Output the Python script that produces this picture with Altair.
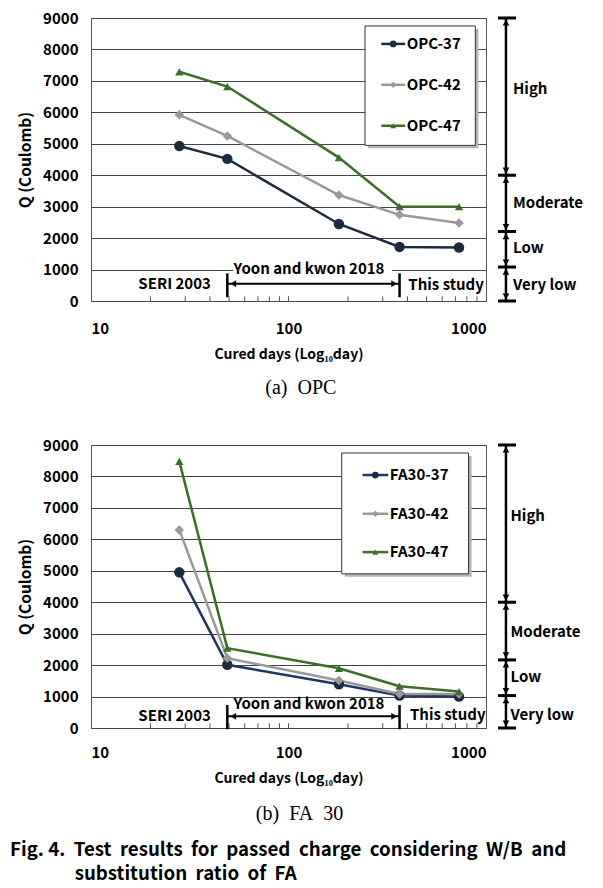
import altair as alt
import pandas as pd

FONT = "Noto Sans CJK KR"
SERIF = "Liberation Serif"
NB = "\u00a0"
EM = "\u2003"
ZW = "\u200b"

# ---------------- data ----------------
days = [28, 49, 180, 365, 730]

opc_names = ["OPC-37", "OPC-42", "OPC-47"]
opc_37 = [4930, 4520, 2450, 1720, 1700]
opc_42 = [5920, 5250, 3370, 2740, 2480]
opc_47 = [7290, 6820, 4560, 3000, 3000]

fa_names = ["FA30-37", "FA30-42", "FA30-47"]
fa_37 = [4950, 2010, 1390, 1030, 1000]
fa_42 = [6300, 2220, 1510, 1080, 1080]
fa_47 = [8480, 2540, 1900, 1330, 1160]

y_ticks = [0, 1000, 2000, 3000, 4000, 5000, 6000, 7000, 8000, 9000]
x_ticks = [10, 100, 1000]
minor_ticks = [20, 30, 40, 50, 60, 70, 80, 90, 100, 200, 300, 400, 500, 600, 700, 800, 900]

class_labels = ["High", "Moderate", "Low", "Very low"]
source_labels = ["SERI 2003", "Yoon and kwon 2018", "This study"]
period_bounds = [49, 365]

# class boundaries (Q) and label heights
bounds_a = [9000, 4000, 2210, 1080, 0]
label_y_a = [6750, 3130, 1700, 500]
bounds_b = [9000, 4000, 2165, 1030, 0]
label_y_b = [6740, 3050, 1610, 410]

# ---------------- styles ----------------
line_colors_a = ["#1e2b3b", "#999999", "#3c6e2a"]
point_colors_a = ["#1e2b3b", "#999999", "#3c6e2a"]
line_colors_b = ["#1f3564", "#999999", "#3c6e2a"]
point_colors_b = ["#1e2b3b", "#999999", "#3c6e2a"]
shapes = ["circle", "diamond", "triangle-up"]
sizes = [110, 70, 100]
legend_sizes = [45, 35, 50]


def make_panel(names, vals, line_colors, point_colors, bounds, label_ys,
               text_pos, leg, caption, lab_pad, cap_offset):
    rows = []
    for n, v in zip(names, vals):
        for d, q in zip(days, v):
            rows.append({"series": n, "day": d, "Q": q})
    df = pd.DataFrame(rows)

    xs = alt.Scale(type="log", domain=[10, 1000], nice=False)
    ys = alt.Scale(domain=[0, 9000], nice=False)
    xax = alt.Axis(values=x_ticks, format="d", ticks=False, domain=False, grid=False,
                   labelPadding=lab_pad, title="Cured days (Log₁₀day)", titlePadding=11)
    yax = alt.Axis(values=y_ticks, format="d", ticks=False, domain=False, grid=True,
                   labelPadding=13, title="Q (Coulomb)", titlePadding=9, titleFontSize=15.5)

    def X(f="day"):
        return alt.X(f"{f}:Q", scale=xs, axis=xax)

    def Y(f="Q"):
        return alt.Y(f"{f}:Q", scale=ys, axis=yax)

    cscale = alt.Scale(domain=names, range=line_colors)
    fscale = alt.Scale(domain=names, range=point_colors)
    sscale = alt.Scale(domain=names, range=shapes)

    lines = alt.Chart(df).mark_line(strokeWidth=2.5).encode(
        x=X(), y=Y(),
        color=alt.Color("series:N", scale=cscale, legend=None),
        order=alt.Order("day:Q"),
    )
    points = alt.Chart(df).mark_point(filled=True, opacity=1).encode(
        x=X(), y=Y(),
        fill=alt.Fill("series:N", scale=fscale, legend=None),
        shape=alt.Shape("series:N", scale=sscale, legend=None),
        size=alt.Size("series:N", scale=alt.Scale(domain=names, range=sizes), legend=None),
    )

    # white background behind "Yoon and kwon 2018"
    bg = alt.Chart(pd.DataFrame([{"day": 52.5, "day2": 335, "Q": text_pos["yoon_y"] - 190,
                                  "Q2": text_pos["yoon_y"] + 190}])).mark_rect(color="white").encode(
        x=X(), x2="day2:Q", y=Y(), y2="Q2:Q")

    minor = alt.Chart(pd.DataFrame({"day": minor_ticks, "Q": [0] * len(minor_ticks),
                                    "Q2": [150] * len(minor_ticks)})).mark_rule(
        color="#555555", strokeWidth=1).encode(x=X(), y=Y(), y2="Q2:Q")

    vmarks = alt.Chart(pd.DataFrame({"day": period_bounds, "Q": [text_pos["vlow"]] * 2,
                                     "Q2": [text_pos["vhigh"]] * 2})).mark_rule(
        color="black", strokeWidth=2.5).encode(x=X(), y=Y(), y2="Q2:Q")

    harrow = alt.Chart(pd.DataFrame([{"day": period_bounds[0], "day2": period_bounds[1],
                                      "Q": text_pos["arrow_y"]}])).mark_rule(
        color="black", strokeWidth=2).encode(x=X(), x2="day2:Q", y=Y())
    hheads = alt.Chart(pd.DataFrame({"day": [52.5, 343], "Q": [text_pos["arrow_y"]] * 2,
                                     "s": ["triangle-left", "triangle-right"]})).mark_point(
        filled=True, color="black", opacity=1, size=45).encode(
        x=X(), y=Y(), shape=alt.Shape("s:N", scale=None, legend=None))

    src = alt.Chart(pd.DataFrame({
        "day": [text_pos["seri_x"], text_pos["yoon_x"], text_pos["this_x"]],
        "Q": [text_pos["seri_y"], text_pos["yoon_y"], text_pos["this_y"]],
        "t": source_labels})).mark_text(
        font=FONT, fontSize=15, fontWeight="bold", color="black").encode(x=X(), y=Y(), text="t:N")

    # right side classification bars
    xb1, xb2, xa, xt = 1150, 1420, 1262, text_pos["cls_x"]
    bars = alt.Chart(pd.DataFrame({"day": [xb1] * 5, "day2": [xb2] * 5, "Q": bounds})).mark_rule(
        color="black", strokeWidth=3).encode(x=X(), x2="day2:Q", y=Y())
    seg = pd.DataFrame({"day": [xa] * 4, "Q": bounds[1:], "Q2": bounds[:-1]})
    vrules = alt.Chart(seg).mark_rule(color="black", strokeWidth=2.5).encode(x=X(), y=Y(), y2="Q2:Q")
    heads = []
    for lo, hi in zip(bounds[1:], bounds[:-1]):
        heads.append({"day": xa, "Q": hi - 150, "s": "triangle-up"})
        heads.append({"day": xa, "Q": lo + 150, "s": "triangle-down"})
    vheads = alt.Chart(pd.DataFrame(heads)).mark_point(
        filled=True, color="black", opacity=1, size=45).encode(
        x=X(), y=Y(), shape=alt.Shape("s:N", scale=None, legend=None))
    cls_text = alt.Chart(pd.DataFrame({"day": [xt] * 4, "Q": label_ys, "t": class_labels})).mark_text(
        font=FONT, fontSize=15, fontWeight="bold", color="black", align="left").encode(
        x=X(), y=Y(), text="t:N")

    # ---- legend box drawn in the plot ----
    bx1, bx2, by1, by2 = leg["box"]
    shadow = alt.Chart(pd.DataFrame([{"day": bx1 * 1.036, "day2": bx2 * 1.036,
                                      "Q": by1 - 95, "Q2": by2 - 95}])).mark_rect(
        color="#b5b5b5").encode(x=X(), x2="day2:Q", y=Y(), y2="Q2:Q")
    box = alt.Chart(pd.DataFrame([{"day": bx1, "day2": bx2, "Q": by1, "Q2": by2}])).mark_rect(
        fill="white", stroke="#333333", strokeWidth=1).encode(x=X(), x2="day2:Q", y=Y(), y2="Q2:Q")
    lx1, lx2, lxc, ltx = leg["sym"]
    ldf = pd.DataFrame({"series": names, "day": [lx1] * 3, "day2": [lx2] * 3,
                        "mid": [lxc] * 3, "tx": [ltx] * 3, "Q": leg["ys"]})
    lrules = alt.Chart(ldf).mark_rule(strokeWidth=2.5).encode(
        x=X(), x2="day2:Q", y=Y(), color=alt.Color("series:N", scale=cscale, legend=None))
    lpts = alt.Chart(ldf).mark_point(filled=True, opacity=1).encode(
        x=X("mid"), y=Y(),
        fill=alt.Fill("series:N", scale=fscale, legend=None),
        shape=alt.Shape("series:N", scale=sscale, legend=None),
        size=alt.Size("series:N", scale=alt.Scale(domain=names, range=legend_sizes), legend=None))
    ltext = alt.Chart(ldf).mark_text(font=FONT, fontSize=15, fontWeight="bold", color="black",
                                     align="left", dx=1).encode(x=X("tx"), y=Y(), text="series:N")

    return alt.layer(
        bg, minor, lines, points, vmarks, harrow, hheads, src, bars, vrules, vheads, cls_text,
        shadow, box, lrules, lpts, ltext
    ).resolve_scale(shape="independent", size="independent").properties(
        width=395, height=283,
        title=alt.TitleParams(text=caption, orient="bottom", font=SERIF, fontSize=20,
                              fontWeight="normal", color="black", offset=cap_offset,
                              anchor="middle", frame="bounds"),
    )


pos_a = {"seri_x": 26.5, "seri_y": 552, "yoon_x": 127, "yoon_y": 1010, "this_x": 628,
         "this_y": 498, "arrow_y": 552, "vlow": 120, "vhigh": 880, "cls_x": 1370}
pos_b = {"seri_x": 26.5, "seri_y": 395, "yoon_x": 127, "yoon_y": 765, "this_x": 640,
         "this_y": 414, "arrow_y": 372, "vlow": -40, "vhigh": 730, "cls_x": 1330}

leg_a = {"box": (244, 883, 8747, 4949), "sym": (295, 390, 339, 392),
         "ys": [8176, 6875, 5574]}
leg_b = {"box": (186, 816, 8746, 4903), "sym": (237, 320, 275, 322),
         "ys": [8045, 6813, 5594]}

panel_a = make_panel(opc_names, [opc_37, opc_42, opc_47], line_colors_a, point_colors_a,
                     bounds_a, label_y_a, pos_a, leg_a, f"(a){NB}{NB}OPC", 20, 17)
panel_b = make_panel(fa_names, [fa_37, fa_42, fa_47], line_colors_b, point_colors_b,
                     bounds_b, label_y_b, pos_b, leg_b, f"(b){NB}{NB}FA{NB}{NB}30", 17, 19)

line1 = f"Fig.{NB}4.{NB}{NB}Test{NB}{NB}results{NB}{NB}for{NB}{NB}passed{NB}{NB}charge{NB}{NB}considering{NB}{NB}W/B{NB}{NB}and"
line2 = ZW + EM * 3 + NB * 2 + f"substitution{NB}{NB}ratio{NB}{NB}of{NB}{NB}FA"

chart = alt.vconcat(panel_a, panel_b, spacing=38).resolve_scale(
    color="independent", fill="independent", shape="independent", size="independent"
).properties(
    title=alt.TitleParams(text=[line1, line2], orient="bottom", anchor="start", frame="bounds",
                          font=FONT, fontSize=18.7, fontWeight="bold", color="black",
                          lineHeight=24, offset=16, dx=-8),
    padding={"left": 2, "top": 2, "right": 5, "bottom": 3},
).configure(font=FONT).configure_view(
    stroke="#555555", strokeWidth=1
).configure_axis(
    labelFont=FONT, labelFontSize=15, labelFontWeight="bold", labelColor="black",
    titleFont=FONT, titleFontSize=14, titleFontWeight="bold", titleColor="black",
    gridColor="#444444", gridWidth=1, gridOpacity=1,
)

chart.save("out.html", embed_options={"renderer": "svg", "actions": False})
